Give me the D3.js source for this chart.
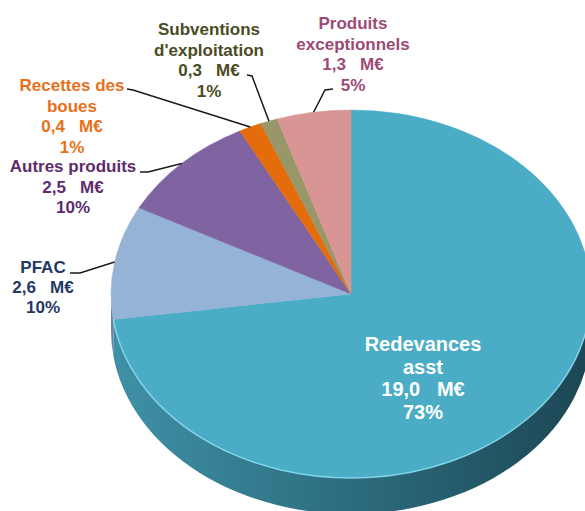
<!DOCTYPE html>
<html>
<head>
<meta charset="utf-8">
<script src="https://cdn.jsdelivr.net/npm/d3@7"></script>
<style>
  body { margin: 0; background: #fff; }
  text { font-family: Arial, "Liberation Sans", sans-serif; font-weight: bold; white-space: pre; }
</style>
</head>
<body>
<div id="pie-container"></div>
<script>
// data
const categories = ["Redevances asst", "PFAC", "Autres produits", "Recettes des boues", "Subventions d'exploitation", "Produits exceptionnels"];
const labelLines = [["Redevances", "asst"], ["PFAC"], ["Autres produits"], ["Recettes des", "boues"], ["Subventions", "d'exploitation"], ["Produits", "exceptionnels"]];
const values = [19.0, 2.6, 2.5, 0.4, 0.3, 1.3];   // M€
const percents = [73, 10, 10, 1, 1, 5];

// colours
const topColors = ["#4BACC6", "#95B3D7", "#8064A2", "#E46C0A", "#98976A", "#D99594"];
const sideColors = ["#2E6F80", "#6B84A3", "#5B4775", "#A24C06", "#6D6C4B", "#9C6A69"];

// label layout (x centre, first baseline, font size, line height, colour, leader start + bend)
const labelLayout = [
  {x: 423, y: 351, size: 20, lh: 22.5, color: "#ffffff", leader: null},
  {x: 43,  y: 273, size: 17, lh: 20, color: "#1F3864", leader: [[70, 273], [80, 273]]},
  {x: 73,  y: 172, size: 17, lh: 20.5, color: "#5E2C6E", leader: [[140, 172], [148, 172]]},
  {x: 72,  y: 91,  size: 17, lh: 20.5, color: "#E8701A", leader: [[127, 89], [133, 90]]},
  {x: 209, y: 35,  size: 17, lh: 20.5, color: "#4B4B23", leader: [[247, 75], [252, 76]]},
  {x: 353, y: 29,  size: 17, lh: 20.5, color: "#9C4A74", leader: [[333, 89], [325, 90]]}
];

const width = 585, height = 511;
const cx = 351, cy = 294, rx = 240, ry = 184, depth = 36;

const svg = d3.select("#pie-container")
  .append("svg")
  .attr("width", width)
  .attr("height", height);

// gradient for the blue side
const defs = svg.append("defs");
const grad = defs.append("linearGradient")
  .attr("id", "sideGrad")
  .attr("gradientUnits", "userSpaceOnUse")
  .attr("x1", cx - rx).attr("y1", 0)
  .attr("x2", cx + rx).attr("y2", 0);
grad.append("stop").attr("offset", 0).attr("stop-color", "#3F91A7");
grad.append("stop").attr("offset", 0.5).attr("stop-color", "#2C6C7E");
grad.append("stop").attr("offset", 1).attr("stop-color", "#1C4653");

const pie = d3.pie().sort(null).value(d => d);
const arcs = pie(values);

// point on the ellipse rim, angle 0 at top, clockwise
const pt = (a, dy = 0) => [cx + rx * Math.sin(a), cy - ry * Math.cos(a) + dy];

// sides (only the front half is visible)
const sides = svg.append("g");
arcs.forEach((d, i) => {
  const a0 = Math.max(d.startAngle, Math.PI / 2);
  const a1 = Math.min(d.endAngle, 3 * Math.PI / 2);
  if (a1 <= a0) return;
  const p0 = pt(a0), p1 = pt(a1), q0 = pt(a0, depth), q1 = pt(a1, depth);
  const path = `M${p0}A${rx},${ry} 0 0 1 ${p1}L${q1}A${rx},${ry} 0 0 0 ${q0}Z`;
  sides.append("path")
    .attr("d", path)
    .attr("fill", i === 0 ? "url(#sideGrad)" : sideColors[i]);
});

// top face
const topFace = svg.append("g");
arcs.forEach((d, i) => {
  const p0 = pt(d.startAngle), p1 = pt(d.endAngle);
  const large = d.endAngle - d.startAngle > Math.PI ? 1 : 0;
  topFace.append("path")
    .attr("d", `M${cx},${cy}L${p0}A${rx},${ry} 0 ${large} 1 ${p1}Z`)
    .attr("fill", topColors[i])
    .attr("stroke", topColors[i])
    .attr("stroke-width", 0.5);
});

// light rim along the front edge
const r0 = pt(Math.PI / 2), r1 = pt(Math.min(arcs[0].endAngle, 3 * Math.PI / 2));
svg.append("path")
  .attr("d", `M${r0}A${rx},${ry} 0 0 1 ${r1}`)
  .attr("fill", "none")
  .attr("stroke", "#8FDDF1")
  .attr("stroke-width", 1.5)
  .attr("opacity", 0.8);

// leader lines
const fmt = v => d3.format(".1f")(v).replace(".", ",") + "   M€";
arcs.forEach((d, i) => {
  const lay = labelLayout[i];
  if (!lay.leader) return;
  const mid = (d.startAngle + d.endAngle) / 2;
  const pts = [...lay.leader, pt(mid)];
  svg.append("path")
    .attr("d", d3.line()(pts))
    .attr("fill", "none")
    .attr("stroke", "#1a1a1a")
    .attr("stroke-width", 1.5);
});

// labels
arcs.forEach((d, i) => {
  const lay = labelLayout[i];
  const lines = [...labelLines[i], fmt(values[i]), percents[i] + "%"];
  const t = svg.append("text")
    .attr("text-anchor", "middle")
    .style("font-size", lay.size + "px")
    .style("fill", lay.color);
  lines.forEach((l, k) => {
    t.append("tspan")
      .attr("x", lay.x)
      .attr("y", lay.y + k * lay.lh)
      .text(l);
  });
});
</script>
</body>
</html>
